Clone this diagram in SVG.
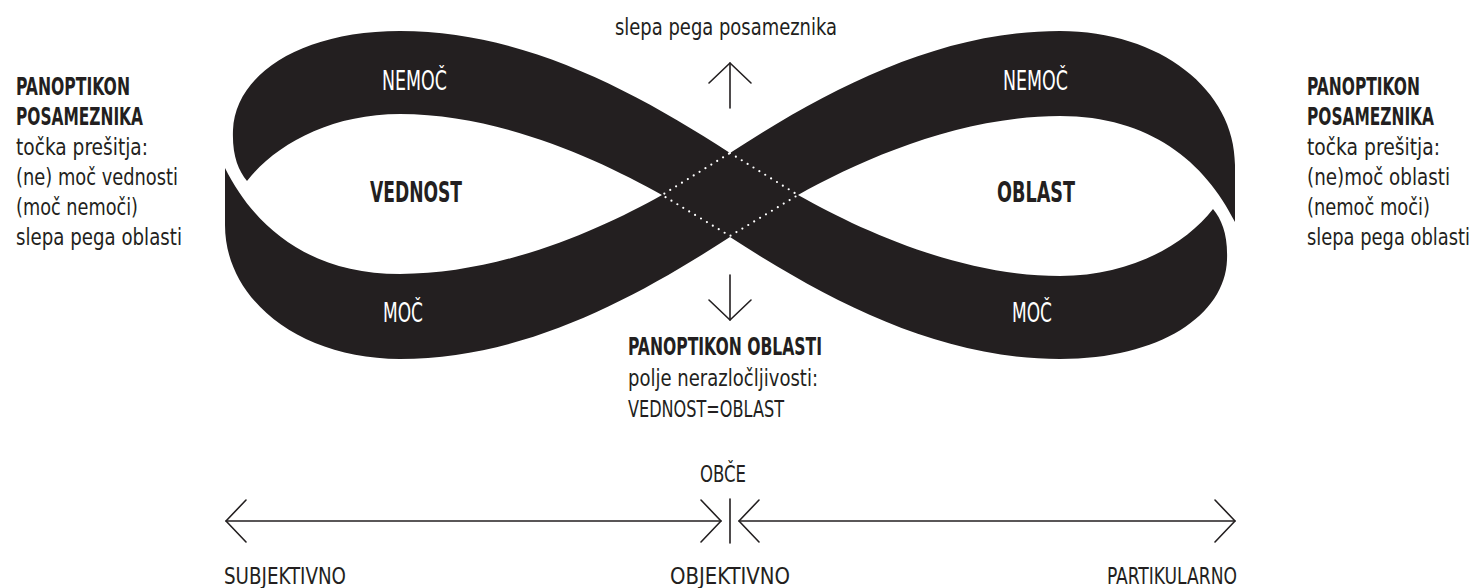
<svg xmlns="http://www.w3.org/2000/svg" width="1477" height="588" viewBox="0 0 1477 588">
<style>
.band{fill:#231f20}
.t{font-family:"Liberation Sans Narrow","DejaVu Sans Condensed","Roboto",sans-serif;fill:#231f20;font-size:23px}
.b{font-weight:bold;font-size:24px}
.w{fill:#fff;font-size:26px}
.big{font-weight:bold;font-size:28px}
.ln{stroke:#231f20;stroke-width:1.6;fill:none;stroke-linecap:round}
.dots{stroke:#fff;stroke-width:2.2;fill:none;stroke-linecap:round;stroke-dasharray:0 6.9}
</style>
<defs>
<marker id="ah" viewBox="-22 -23 25 46" markerWidth="25" markerHeight="46" refX="0" refY="0" orient="auto-start-reverse" markerUnits="userSpaceOnUse">
<path d="M-20,-21 L0,0 L-20,21" fill="none" stroke="#231f20" stroke-width="1.6" stroke-linecap="round" stroke-linejoin="round"/>
</marker>
</defs>
<rect width="1477" height="588" fill="#fff"/>
<g id="ribbon">
<path id="band-b" class="band" d="M225,168 L225,225 C225,300 300,359 400,359 C520,359 630,302 730,237 L798,195 C860,160 960,116 1060,116 C1150,116 1205,162 1235,222 L1235,165 C1235,90 1160,31 1060,31 C940,31 830,88 730,153 L662,195 C600,230 500,274 400,274 C310,274 255,228 225,168 Z"/>
<path id="band-a" class="band" d="M247,181 C238,170 232,155 233,130 C235,75 300,31 400,31 C520,31 630,88 730,153 L798,195 C860,230 960,276 1060,276 C1130,276 1185,245 1213,209 C1222,220 1228,235 1227,260 C1225,315 1160,359 1060,359 C940,359 830,302 730,237 L662,195 C600,160 500,114 400,114 C330,114 275,145 247,181 Z"/>
<path id="crossing" class="dots" d="M730,153 L798,195 L730,236 L662,195 Z"/>
</g>
<g id="vednost">
<text class="t w" x="382" y="90" textLength="65" lengthAdjust="spacingAndGlyphs">NEMOČ</text>
<text class="t big" x="370" y="202" textLength="92" lengthAdjust="spacingAndGlyphs">VEDNOST</text>
<text class="t w" x="383" y="322" textLength="40" lengthAdjust="spacingAndGlyphs">MOČ</text>
</g>
<g id="oblast">
<text class="t w" x="1003" y="90" textLength="65" lengthAdjust="spacingAndGlyphs">NEMOČ</text>
<text class="t big" x="997" y="202" textLength="78" lengthAdjust="spacingAndGlyphs">OBLAST</text>
<text class="t w" x="1012" y="322" textLength="40" lengthAdjust="spacingAndGlyphs">MOČ</text>
</g>
<g id="panoptikon-left">
<text class="t b" x="16" y="95" textLength="114" lengthAdjust="spacingAndGlyphs">PANOPTIKON</text>
<text class="t b" x="16" y="125" textLength="127" lengthAdjust="spacingAndGlyphs">POSAMEZNIKA</text>
<text class="t" x="16" y="155" textLength="132" lengthAdjust="spacingAndGlyphs">točka prešitja:</text>
<text class="t" x="16" y="185" textLength="162" lengthAdjust="spacingAndGlyphs">(ne) moč vednosti</text>
<text class="t" x="16" y="215" textLength="122" lengthAdjust="spacingAndGlyphs">(moč nemoči)</text>
<text class="t" x="16" y="245" textLength="166" lengthAdjust="spacingAndGlyphs">slepa pega oblasti</text>
</g>
<g id="panoptikon-right">
<text class="t b" x="1307" y="95" textLength="113" lengthAdjust="spacingAndGlyphs">PANOPTIKON</text>
<text class="t b" x="1307" y="125" textLength="127" lengthAdjust="spacingAndGlyphs">POSAMEZNIKA</text>
<text class="t" x="1307" y="155" textLength="133" lengthAdjust="spacingAndGlyphs">točka prešitja:</text>
<text class="t" x="1307" y="185" textLength="143" lengthAdjust="spacingAndGlyphs">(ne)moč oblasti</text>
<text class="t" x="1307" y="215" textLength="123" lengthAdjust="spacingAndGlyphs">(nemoč moči)</text>
<text class="t" x="1307" y="245" textLength="163" lengthAdjust="spacingAndGlyphs">slepa pega oblasti</text>
</g>
<g id="slepa-pega-posameznika">
<text class="t" x="615" y="35" textLength="222" lengthAdjust="spacingAndGlyphs">slepa pega posameznika</text>
</g>
<g id="panoptikon-oblasti">
<text class="t b" x="628" y="355" textLength="194" lengthAdjust="spacingAndGlyphs">PANOPTIKON OBLASTI</text>
<text class="t" x="628" y="386" textLength="190" lengthAdjust="spacingAndGlyphs">polje nerazločljivosti:</text>
<text class="t" x="628" y="417" textLength="156" lengthAdjust="spacingAndGlyphs">VEDNOST=OBLAST</text>
</g>
<g id="axis-labels">
<text class="t" x="700" y="482" textLength="46" lengthAdjust="spacingAndGlyphs">OBČE</text>
<text class="t" x="224" y="584" textLength="122" lengthAdjust="spacingAndGlyphs">SUBJEKTIVNO</text>
<text class="t" x="670" y="584" textLength="120" lengthAdjust="spacingAndGlyphs">OBJEKTIVNO</text>
<text class="t" x="1107" y="584" textLength="130" lengthAdjust="spacingAndGlyphs">PARTIKULARNO</text>
</g>
<g id="connectors">
<line class="ln" x1="730" y1="108" x2="730" y2="63" marker-end="url(#ah)"/>
<line class="ln" x1="730" y1="275" x2="730" y2="320" marker-end="url(#ah)"/>
<line class="ln" x1="226" y1="521" x2="721" y2="521" marker-start="url(#ah)" marker-end="url(#ah)"/>
<line class="ln" x1="739" y1="521" x2="1235" y2="521" marker-start="url(#ah)" marker-end="url(#ah)"/>
<line class="ln" x1="730" y1="499" x2="730" y2="543"/>
</g>
</svg>
